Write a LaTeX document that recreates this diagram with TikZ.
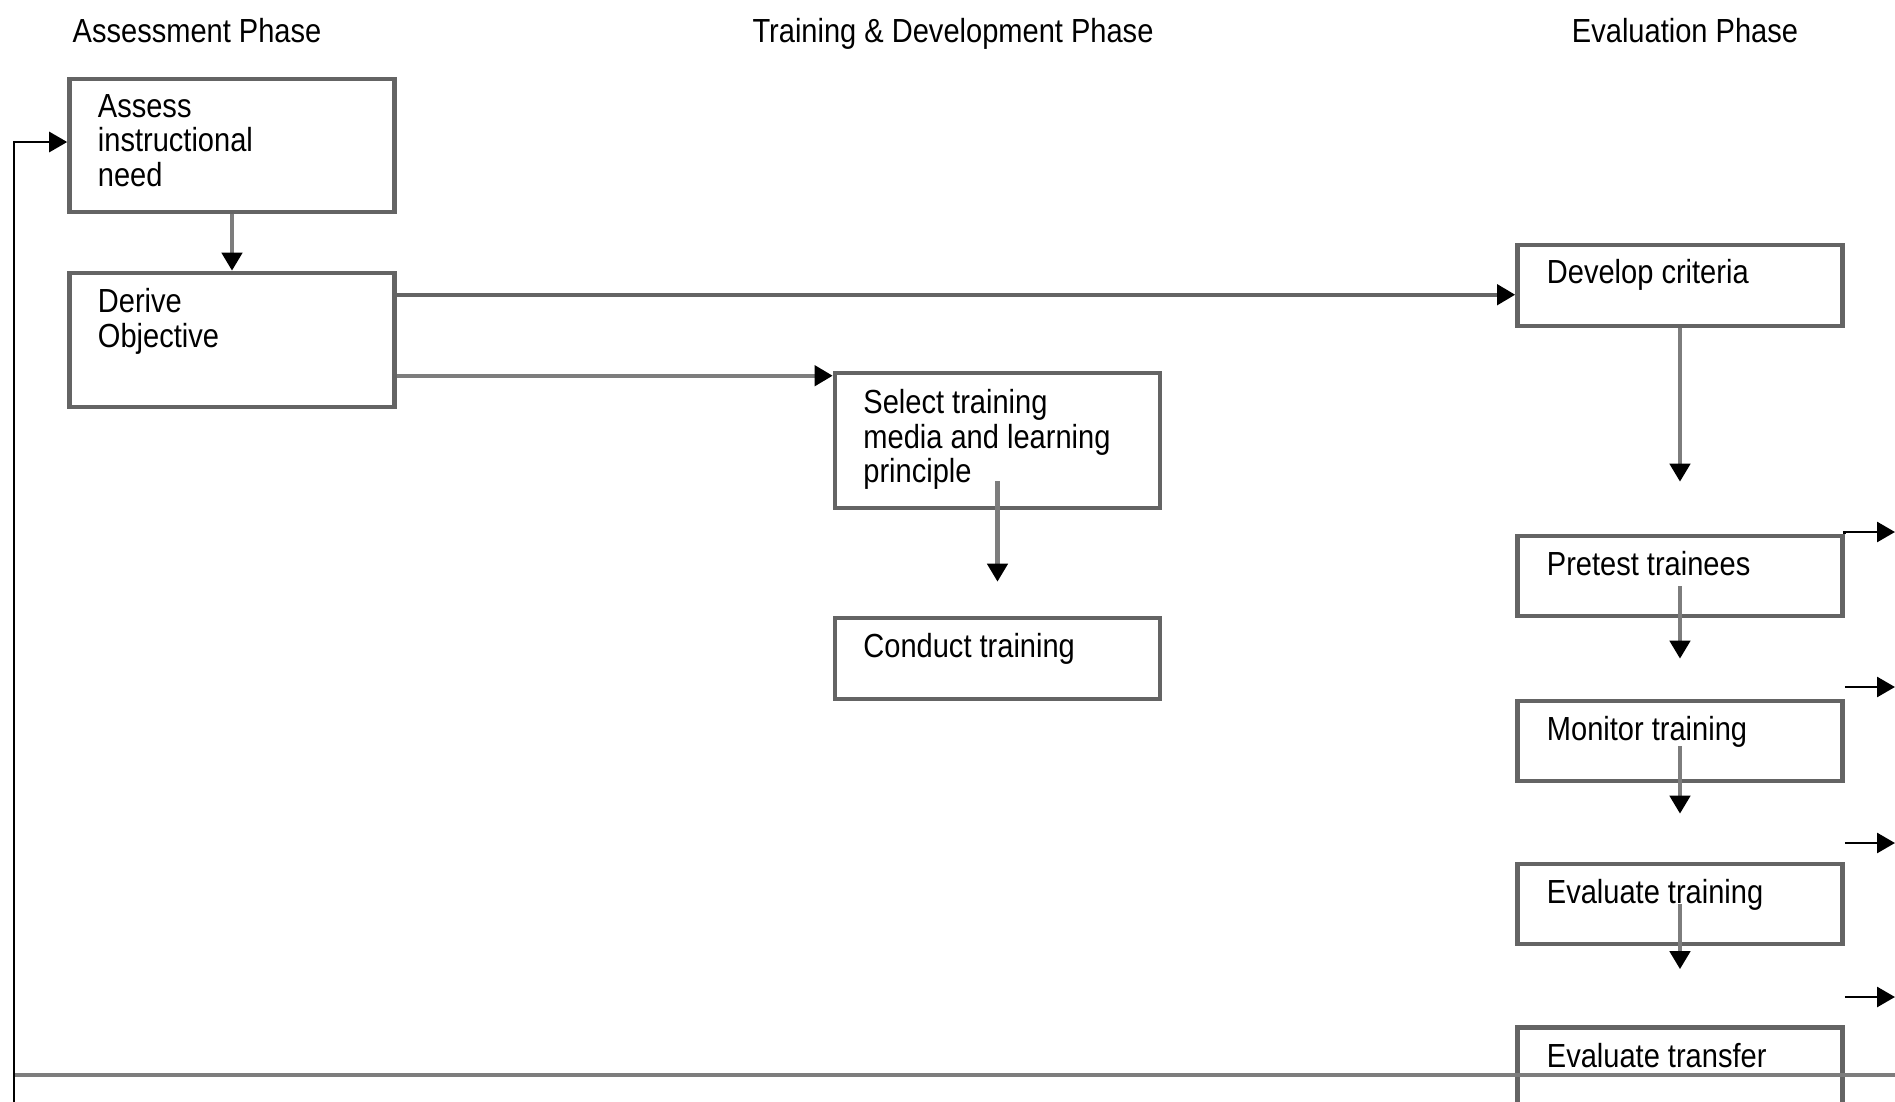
\documentclass[tikz,border=0pt]{standalone}
\usepackage{fontspec}
\setmainfont{Liberation Sans}[FakeStretch=0.87]
\usetikzlibrary{arrows.meta,positioning}
\definecolor{boxgray}{RGB}{100,100,100}
\definecolor{linegray}{RGB}{125,125,125}
\newcommand{\stagefont}{\fontsize{9.5}{9.8}\selectfont}
\tikzset{
  stage box/.style={draw=boxgray,line width=1.3pt,minimum width=3.25cm,inner sep=0pt},
  stage text/.style={anchor=north west,inner sep=0pt,align=left,font=\stagefont},
  phase title/.style={anchor=base,inner sep=0pt,font=\stagefont},
  main edge/.style={draw=linegray,line width=1.2pt,-{Triangle[length=1.8mm,width=2mm,color=black]}},
  side edge/.style={black,line width=0.8pt,-{Triangle[length=1.8mm,width=2mm]}},
}

\begin{document}
\begin{tikzpicture}[x=1cm,y=1cm]
  \useasboundingbox (0,0) rectangle (18.95,-11.02);
  \clip (0,0) rectangle (18.95,-11.02);
  % phases
  \node[phase title] (ph1) at (1.97,-0.42) {Assessment Phase};
  \node[phase title] (ph2) at (9.53,-0.42) {Training \& Development Phase};
  \node[phase title] (ph3) at (16.85,-0.42) {Evaluation Phase};
  % boxes
  \node[stage box,minimum height=1.33cm] (assess) at (2.32,-1.455) {};
  \node[stage box,minimum height=1.34cm] (derive) at (2.32,-3.40) {};
  \node[stage box,minimum height=1.35cm] (select) at (9.975,-4.405) {};
  \node[stage box,minimum height=0.81cm] (conduct) at (9.975,-6.585) {};
  \node[stage box,minimum height=0.81cm] (develop) at (16.80,-2.855) {};
  \node[stage box,minimum height=0.80cm] (pretest) at (16.80,-5.76) {};
  \node[stage box,minimum height=0.80cm] (monitor) at (16.80,-7.41) {};
  \node[stage box,minimum height=0.80cm] (evaltrain) at (16.80,-9.04) {};
  \node[stage box,minimum height=0.81cm] (transfer) at (16.80,-10.68) {};
  \node[stage text] (assess-t) at ([shift={(0.30,-0.17)}]assess.north west) {Assess\\instructional\\need};
  \node[stage text] (derive-t) at ([shift={(0.30,-0.17)}]derive.north west) {Derive\\Objective};
  \node[stage text] (select-t) at ([shift={(0.30,-0.18)}]select.north west) {Select training\\media and learning\\principle};
  \node[stage text] (conduct-t) at ([shift={(0.30,-0.17)}]conduct.north west) {Conduct training};
  \node[stage text] (develop-t) at ([shift={(0.31,-0.16)}]develop.north west) {Develop criteria};
  \node[stage text] (pretest-t) at ([shift={(0.31,-0.17)}]pretest.north west) {Pretest trainees};
  \node[stage text] (monitor-t) at ([shift={(0.31,-0.17)}]monitor.north west) {Monitor training};
  \node[stage text] (evaltrain-t) at ([shift={(0.31,-0.17)}]evaltrain.north west) {Evaluate training};
  \node[stage text] (transfer-t) at ([shift={(0.31,-0.17)}]transfer.north west) {Evaluate transfer};
  % free ends
  \coordinate (fb) at (0.14,-11.4);
  \coordinate (base) at (18.95,-10.75);
  \coordinate (d1) at ([yshift=-0.24cm]derive.north east);
  \coordinate (d2) at ([yshift=-1.05cm]derive.north east);
  \coordinate (out1) at (18.95,-5.32);
  \coordinate (out2) at (18.95,-6.87);
  \coordinate (out3) at (18.95,-8.43);
  \coordinate (out4) at (18.95,-9.97);
  % connectors
  \draw[linegray,line width=1.1pt] (fb |- base) -- (base);
  \draw[side edge] (fb) |- ([yshift=0.35mm]assess.west);
  \draw[main edge] (assess) -- (derive);
  \draw[main edge,draw=boxgray] (d1) -- (d1 -| develop.west);
  \draw[main edge] (d2) -- (d2 -| select.west);
  \draw[main edge] ([yshift=0.29cm]select.south) -- ([yshift=0.34cm]conduct.north);
  \draw[main edge] (develop.south) -- ([yshift=0.52cm]pretest.north);
  \draw[main edge] ([yshift=0.32cm]pretest.south) -- ([yshift=0.40cm]monitor.north);
  \draw[main edge] ([yshift=0.37cm]monitor.south) -- ([yshift=0.48cm]evaltrain.north);
  \draw[main edge] ([yshift=0.42cm]evaltrain.south) -- ([yshift=0.56cm]transfer.north);
  \draw[side edge] (pretest.north east) |- (out1);
  \draw[side edge] (out2 -| monitor.east) -- (out2);
  \draw[side edge] (out3 -| evaltrain.east) -- (out3);
  \draw[side edge] (out4 -| transfer.east) -- (out4);
\end{tikzpicture}
\end{document}
